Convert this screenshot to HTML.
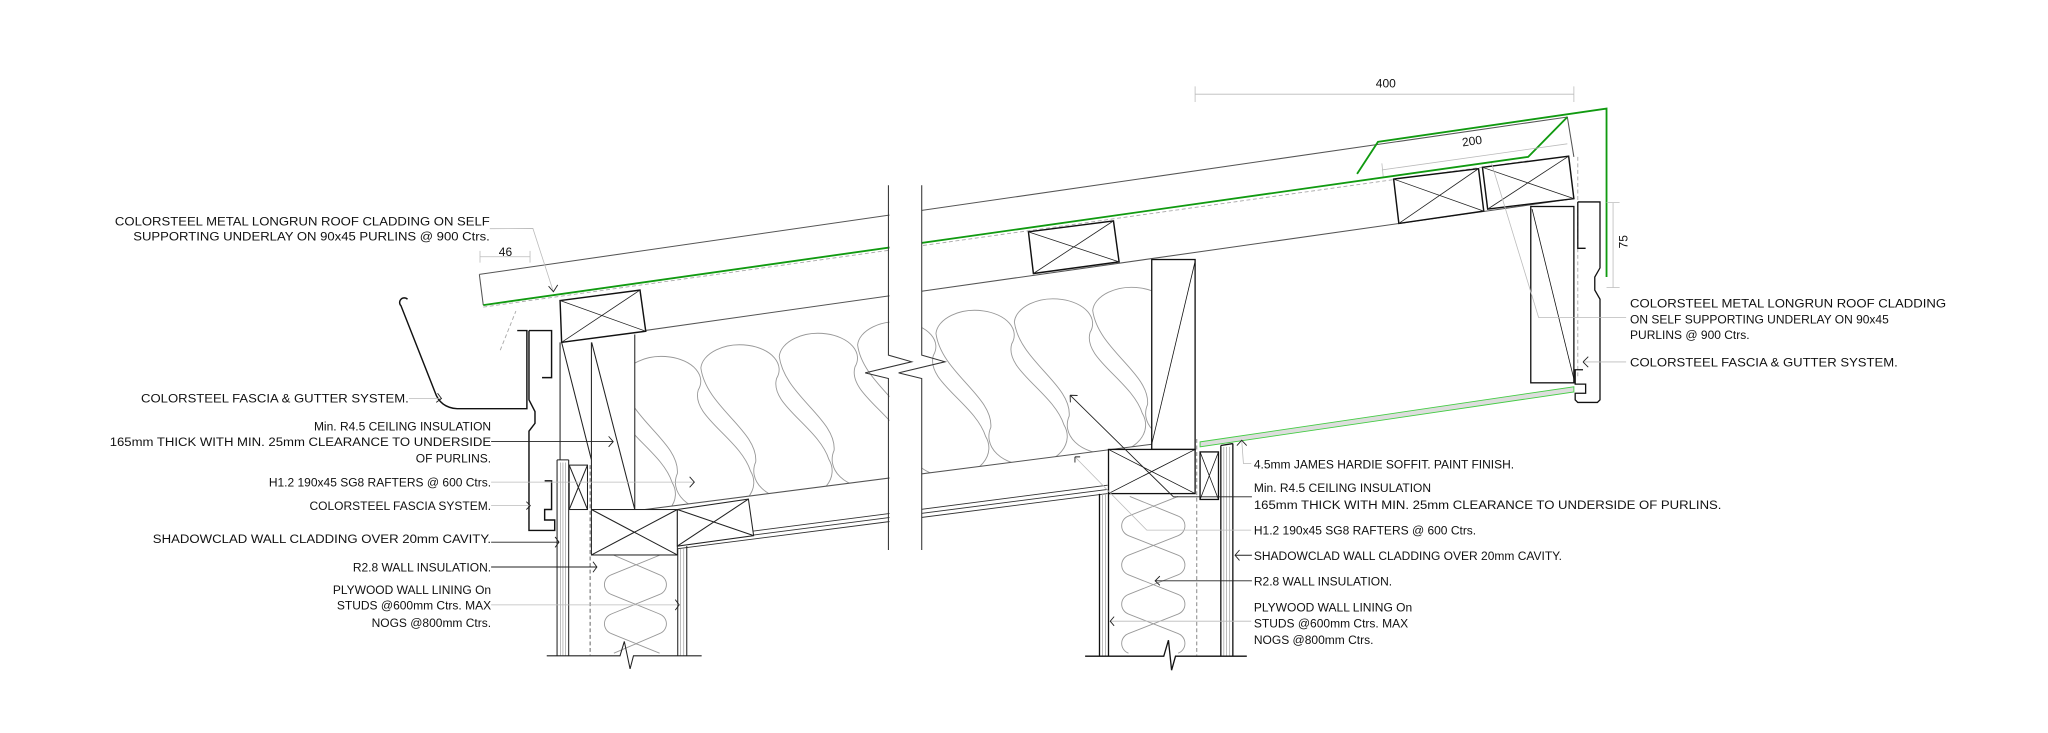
<!DOCTYPE html>
<html><head><meta charset="utf-8"><style>
html,body{margin:0;padding:0;background:#fff;}
svg{display:block;}
text{font-family:"Liberation Sans",Arial,sans-serif;font-size:9.2px;fill:#111;}
</style></head><body>
<svg width="2048" height="733" viewBox="0 0 1568 561" xmlns="http://www.w3.org/2000/svg">
<defs>
<clipPath id="raf"><polygon points="486,257 882,199 882,340 486,391"/></clipPath>
<clipPath id="wl"><rect x="453" y="425" width="65" height="77"/></clipPath>
<clipPath id="wr"><rect x="849" y="378" width="66" height="124"/></clipPath>
<path id="pear" d="M-30,0 A30,19 0 1 1 28,8 C22,28 60,45 68,70 A30,22 0 1 1 12,72 C14,48 -26,30 -30,0 Z"/>
</defs>
<rect width="1568" height="561" fill="#fff"/>

<g clip-path="url(#raf)" fill="none" stroke="#999" stroke-width="0.7">
<use href="#pear" x="446.6" y="299.3"/>
<use href="#pear" x="506.6" y="290.5"/>
<use href="#pear" x="566.6" y="281.6"/>
<use href="#pear" x="626.6" y="272.8"/>
<use href="#pear" x="686.6" y="264"/>
<use href="#pear" x="746.6" y="255.2"/>
<use href="#pear" x="806.6" y="246.4"/>
<use href="#pear" x="866.6" y="237.6"/>
</g>

<g fill="none" stroke="#999" stroke-width="0.7">
<path clip-path="url(#wl)" d="M470,425 L505,440 A8,8 0 0 1 505,455 L468,470 A8,8 0 0 0 468,485 L505,500 M505,425 L468,440 A8,8 0 0 0 468,455 L505,470 A8,8 0 0 1 505,485 L470,500"/>
<path clip-path="url(#wr)" d="M865,380 L902,395 A8,8 0 0 1 902,410 L864,425 A8,8 0 0 0 864,440 L902,455 A8,8 0 0 1 902,470 L864,485 A8,8 0 0 0 864,500 M902,380 L864,395 A8,8 0 0 0 864,410 L902,425 A8,8 0 0 1 902,440 L864,455 A8,8 0 0 0 864,470 L902,485 A8,8 0 0 1 902,500"/>
</g>

<g fill="none" stroke="#555" stroke-width="0.8">
<path d="M367,210 L1200,89.5 L1205,120"/>
<path d="M367,210 L370,233.5"/>
<path d="M430,262 L1205,152" />
<path d="M486,391 L882,340"/>
</g>
<path d="M370,235 L1170,123" stroke="#aaa" stroke-width="0.7" stroke-dasharray="3,2" fill="none"/>
<path d="M383,268 L395,238" stroke="#aaa" stroke-width="0.7" stroke-dasharray="3,2" fill="none"/>
<path d="M1208,120 L1208,290" stroke="#aaa" stroke-width="0.7" stroke-dasharray="3,2" fill="none"/>
<g fill="none" stroke="#109a10" stroke-width="1.4">
<path d="M370,233.5 L1170,120 L1200,89.5"/>
<path d="M1039,133 L1055,108.5 L1230,83 L1230,212"/>
</g>

<g fill="none" stroke="#333" stroke-width="0.7">
<path d="M519,414 L848,371.4 M519,417 L848,374.6 M519,420 L848,377.8"/>
</g>

<g fill="#fff" stroke="#111" stroke-width="1.1">
<polygon points="787.4,177.4 852.5,169 856.8,200.4 791.2,209.3"/>
<polygon points="1067,137 1132,129 1136,161.5 1071,171"/>
<polygon points="1135,128 1201,119.5 1205,152 1139,160"/>
<polygon points="428.8,230 490,222 494.4,253.5 430,262"/>
</g>
<g stroke="#222" stroke-width="0.6">
<path d="M787.4,177.4 L856.8,200.4 M852.5,169 L791.2,209.3"/>
<path d="M1067,137 L1136,161.5 M1132,129 L1071,171"/>
<path d="M1135,128 L1205,152 M1201,119.5 L1139,160"/>
<path d="M428.8,230 L494.4,253.5 M490,222 L430,262"/>
</g>

<g fill="none" stroke="#222" stroke-width="0.8">
<path d="M428.8,262 L428.8,352 M452.8,262 L452.8,390 M486,256 L486,390 M430,262 L452.8,352 M453,262 L486,390"/>
<rect x="452.8" y="390" width="65.8" height="34.8" fill="#fff"/>
<path d="M452.8,390 L518.6,424.8 M518.6,390 L452.8,424.8"/>
<polygon points="518.6,390 573,382 577,410 518.6,418" fill="#fff"/>
<path d="M518.6,390 L577,410 M573,382 L518.6,418"/>
<rect x="435.8" y="356" width="14" height="34"/>
<path d="M435.8,356 L449.8,390 M449.8,356 L435.8,390"/>
<path d="M426.5,352 L426.5,502 M435.4,352 L435.4,502 M426.5,352 L435.4,352"/>
<path d="M429,354 L429,502 M431,354 L431,502 M433,354 L433,502" stroke="#999" stroke-width="0.5"/>
<path d="M518.9,420 L518.9,502 M525.8,418 L525.8,502"/>
<path d="M521,420 L521,502 M523.5,420 L523.5,502" stroke="#999" stroke-width="0.5"/>
<path d="M418.6,502 L474.7,502 L478,491 L482.4,512 L485,502 L537.2,502"/>
</g>
<path d="M451.8,356 L451.8,502" stroke="#555" stroke-width="0.7" stroke-dasharray="3,2"/>

<g fill="none" stroke="#111" stroke-width="1.1">
<path d="M312,229 A3,3 0 1 0 307,234 L333,300 Q337,312 350,312.8 L403.4,312.8 L403.4,253 L396,253"/>
<path d="M405,253 L422.3,253 L422.3,289 L415,289"/>
<path d="M405,253 L405,306 L409.6,315 L409.6,324 L405,330 L405,406 L424.7,406 L424.7,398 L417,398 L417,390 L422.3,390 L422.3,368 L417,368"/>
</g>

<rect x="681" y="141" width="24.5" height="280" fill="#fff"/>
<g fill="none" stroke="#333" stroke-width="0.8">
<path d="M680.2,141.7 L680.2,271.8 L698,276.9 L662.4,285.4 L680.2,289.7 L680.2,421"/>
<path d="M705.7,141.7 L705.7,271.8 L723.5,276.9 L688,285.4 L705.7,289.7 L705.7,421"/>
</g>

<g fill="none" stroke="#111" stroke-width="1">
<rect x="881.8" y="198.6" width="33.2" height="145.4" fill="#fff"/>
<path d="M915,200 L881.8,340" stroke-width="0.6"/>
<rect x="848.7" y="344" width="66.3" height="33.8" fill="#fff"/>
<path d="M848.7,344 L915,377.8 M915,344 L848.7,377.8" stroke-width="0.6"/>
<rect x="918.8" y="345.9" width="14.1" height="36.4"/>
<path d="M918.8,345.9 L932.9,382.3 M932.9,345.9 L918.8,382.3" stroke-width="0.6"/>
<path d="M934.7,341 L934.7,502 M943.9,339.5 L943.9,502 M934.7,341 L943.9,339.5"/>
<path d="M937,342 L937,502 M939,342 L939,502 M941.5,342 L941.5,502" stroke="#999" stroke-width="0.5"/>
<path d="M841.8,378 L841.8,502 M848.7,378 L848.7,502"/>
<path d="M844,378 L844,502 M846.3,378 L846.3,502" stroke="#999" stroke-width="0.5"/>
<path d="M830.8,502.3 L891,502.3 L894.6,490 L897,513 L900,502.3 L954.6,502.3"/>
</g>
<path d="M916.3,336 L916.3,502" stroke="#666" stroke-width="0.6" stroke-dasharray="3,2"/>
<polygon points="918.8,338.2 1205,296 1205,300 918.8,342" fill="#ddd" stroke="#4c4" stroke-width="0.7"/>

<g fill="none" stroke="#111" stroke-width="1">
<rect x="1172" y="158" width="33" height="135" fill="#fff"/>
<path d="M1173,160 L1205,290" stroke-width="0.6"/>
<path d="M1208,154.5 L1225,154.5 L1225,205 L1221,212 L1221,222 L1225,229 L1225,306 L1223,308 L1208,308 L1206,306 L1206,301 L1214,301 L1214,294 L1206,294 L1206,283 L1212,283"/>
<path d="M1208,154.5 L1208,190 L1214,190"/>
</g>

<g fill="none" stroke="#bbb" stroke-width="0.6">
<path d="M915,72 L1205,72 M915,66 L915,78 M1205,66 L1205,78"/>
<path d="M1058,130 L1200,110 M1058,125 L1059,135"/>
<path d="M1235,155 L1235,220 M1230,155 L1240,155 M1230,220 L1240,220"/>
<path d="M367.5,196.5 L405.8,196.5 M367.5,192 L367.5,201 M405.8,192 L405.8,201"/>
<path d="M375,175 L408,174.8 L423.7,223.3"/>
<path d="M1142,125 L1178,243 L1245,243"/>
<path d="M1212,277 L1245,277"/>
<path d="M823,349.7 L878,405.8 L958,405.8"/>
<path d="M950.7,337 L952,354.8 L958,354.8"/>
<path d="M850,475.5 L958,475.5"/>
<path d="M376,369 L531.6,369"/>
<path d="M313,305 L338,305"/>
<path d="M376,387 L406,387"/>
<path d="M376,463 L520,463"/>
</g>
<g fill="none" stroke="#222" stroke-width="0.7">
<path d="M420,219 L423.7,223.3 L427,218"/>
<path d="M958.5,380.3 L898.4,380.3 L819.3,302.5 M819.3,302.5 L819.5,308 M819.3,302.5 L825,302.7"/>
<path d="M823,349.7 L823,354 M823,349.7 L827,349.7"/>
<path d="M958.5,425 L945.6,425 M949,421 L945.6,425 L949,429"/>
<path d="M958.5,444.6 L884.4,444.6 M888,441 L884.4,444.6 L888,448"/>
<path d="M1212,277 L1216,273 M1212,277 L1216,281"/>
<path d="M947,341 L950.7,337 L954.5,341"/>
<path d="M376,338 L469.5,338 M466,334 L469.5,338 L466,342"/>
<path d="M376,415 L428,415 M425,411 L428,415 L425,419"/>
<path d="M376,434 L457,434 M454,430 L457,434 L454,438"/>
<path d="M528,365 L531.6,369 L528,373 M403,384 L406,387 L403,390 M517,459 L520,463 L517,467 M335,301 L338,305 L334,308 M853,472 L850,475.5 L853,479"/>
</g>

<text x="1061" y="67" text-anchor="middle">400</text>
<text x="1127" y="111" text-anchor="middle" transform="rotate(-8 1127 108)">200</text>
<text x="1243" y="188" text-anchor="middle" transform="rotate(-90 1243 185)">75</text>
<text x="387" y="196" text-anchor="middle">46</text>

<text x="88" y="172.5" textLength="287" lengthAdjust="spacingAndGlyphs">COLORSTEEL METAL LONGRUN ROOF CLADDING ON SELF</text>
<text x="102" y="184" textLength="273" lengthAdjust="spacingAndGlyphs">SUPPORTING UNDERLAY ON 90x45 PURLINS @ 900 Ctrs.</text>
<text x="108" y="308" textLength="205" lengthAdjust="spacingAndGlyphs">COLORSTEEL FASCIA &amp; GUTTER SYSTEM.</text>
<text x="376" y="329.5" text-anchor="end">Min. R4.5 CEILING INSULATION</text>
<text x="84" y="341.5" textLength="292" lengthAdjust="spacingAndGlyphs">165mm THICK WITH MIN. 25mm CLEARANCE TO UNDERSIDE</text>
<text x="376" y="354" text-anchor="end">OF PURLINS.</text>
<text x="376" y="372.5" text-anchor="end">H1.2 190x45 SG8 RAFTERS @ 600 Ctrs.</text>
<text x="376" y="390.5" text-anchor="end">COLORSTEEL FASCIA SYSTEM.</text>
<text x="117" y="415.5" textLength="259" lengthAdjust="spacingAndGlyphs">SHADOWCLAD WALL CLADDING OVER 20mm CAVITY.</text>
<text x="376" y="437.5" text-anchor="end">R2.8 WALL INSULATION.</text>
<text x="376" y="454.5" text-anchor="end">PLYWOOD WALL LINING On</text>
<text x="376" y="466.5" text-anchor="end">STUDS @600mm Ctrs. MAX</text>
<text x="376" y="480" text-anchor="end">NOGS @800mm Ctrs.</text>

<text x="1248" y="235.5" textLength="242" lengthAdjust="spacingAndGlyphs">COLORSTEEL METAL LONGRUN ROOF CLADDING</text>
<text x="1248" y="247.5">ON SELF SUPPORTING UNDERLAY ON 90x45</text>
<text x="1248" y="259.5">PURLINS @ 900 Ctrs.</text>
<text x="1248" y="280.5" textLength="205" lengthAdjust="spacingAndGlyphs">COLORSTEEL FASCIA &amp; GUTTER SYSTEM.</text>

<text x="960" y="358.5">4.5mm JAMES HARDIE SOFFIT. PAINT FINISH.</text>
<text x="960" y="376.5">Min. R4.5 CEILING INSULATION</text>
<text x="960" y="389.5" textLength="358" lengthAdjust="spacingAndGlyphs">165mm THICK WITH MIN. 25mm CLEARANCE TO UNDERSIDE OF PURLINS.</text>
<text x="960" y="409">H1.2 190x45 SG8 RAFTERS @ 600 Ctrs.</text>
<text x="960" y="428.5">SHADOWCLAD WALL CLADDING OVER 20mm CAVITY.</text>
<text x="960" y="448">R2.8 WALL INSULATION.</text>
<text x="960" y="468">PLYWOOD WALL LINING On</text>
<text x="960" y="480.5">STUDS @600mm Ctrs. MAX</text>
<text x="960" y="493">NOGS @800mm Ctrs.</text>
</svg>
</body></html>
